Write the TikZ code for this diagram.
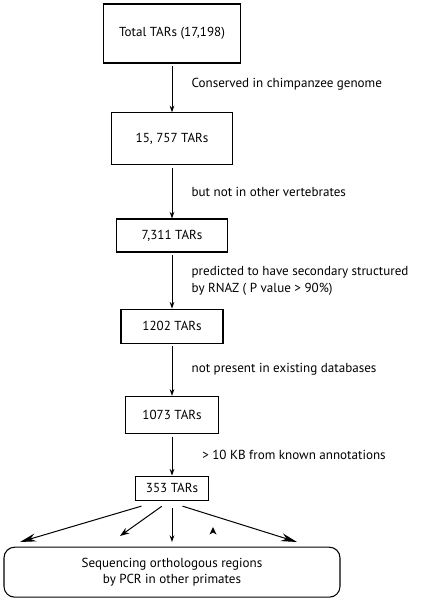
\documentclass[tikz,border=0pt]{standalone}
\usepackage{fontspec}
\setmainfont{PT Sans}
\usetikzlibrary{positioning, arrows.meta}

\begin{document}
\begin{tikzpicture}[
    x=0.75pt, y=-0.75pt,
    on grid,
    font=\fontsize{9.8}{12.5}\selectfont,
    tarbox/.style={draw, line width=0.8pt, inner sep=0pt},
    primbox/.style={draw, line width=0.8pt, rounded corners=8pt, align=center},
    filterlabel/.style={right, xshift=11pt, align=left},
    every edge/.append style={line width=0.75pt, shorten <=2pt, -{Stealth[length=5pt,width=3.5pt]}}
]
   \useasboundingbox (0,0) rectangle (439,600);

   % TAR filtering steps
   \node[tarbox, minimum width=102.75pt, minimum height=44.25pt] (total) at (172,33.5) {Total TARs (17,198)};
   \node[tarbox, minimum width=90.75pt, minimum height=39pt] (chimp) [below=79pt of total] {15, 757 TARs};
   \node[tarbox, minimum width=83.25pt, minimum height=24.75pt] (vert) [below=72.5pt of chimp] {7,311 TARs};
   \node[tarbox, minimum width=76.5pt, minimum height=25.5pt] (rnaz) [below=68pt of vert] {1202 TARs};
   \node[tarbox, minimum width=69.75pt, minimum height=27.75pt] (novel) [below=66.5pt of rnaz] {1073 TARs};
   \node[tarbox, minimum width=54.75pt, minimum height=18pt] (far) [below=55pt of novel] {353 TARs};
   \node[primbox, minimum width=252pt, minimum height=37.5pt] (pcr) [below=63pt of far] {Sequencing orthologous regions\\by PCR in other primates};

   % Filters
   \path
   (total) edge node[filterlabel, yshift=3pt] {Conserved in chimpanzee genome} (chimp)
   (chimp) edge node[filterlabel] {but not in other vertebrates} (vert)
   (vert) edge node[filterlabel] {predicted to have secondary structured\\by RNAZ ( P value {>} 90\%)} (rnaz)
   (rnaz) edge node[filterlabel] {not present in existing databases} (novel)
   (novel) edge node[filterlabel, xshift=8pt] {{>} 10 KB from known annotations} (far);

   % Primate sequencing
   \coordinate (e1) at (20,542);
   \coordinate (e2) at (120,536);
   \coordinate (e3) at (172,542);
   \coordinate (e4) at (297,542);
   \path
   ([xshift=-21pt,yshift=-3.5pt]far.south) edge[-{Stealth[length=12pt,width=6pt]}] (e1)
   ([xshift=-6pt,yshift=-3pt]far.south) edge[-{Stealth[length=7pt,width=5pt]}] (e2)
   ([yshift=-3.5pt]far.south) edge (e3)
   ([xshift=6pt,yshift=-3.5pt]far.south) edge[-{Stealth[length=12pt,width=6pt]}] (e4);
   \fill (213,527) -- (216.5,534.5) -- (213,532.5) -- (209.5,534.5) -- cycle;
\end{tikzpicture}
\end{document}
